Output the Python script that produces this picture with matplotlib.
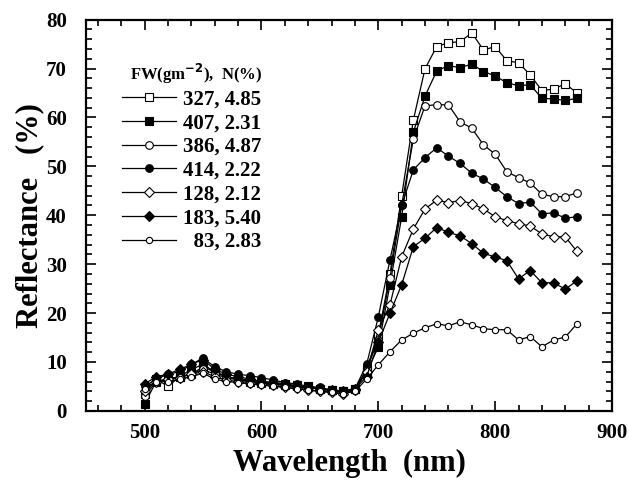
import matplotlib
matplotlib.use("Agg")
import matplotlib.pyplot as plt
from matplotlib.ticker import MultipleLocator

# wavelength grid (nm), 500..870 every 10
wavelength = list(range(500, 880, 10))

labels = ["327, 4.85", "407, 2.31", "386, 4.87", "414, 2.22",
          "128, 2.12", "183, 5.40", "  83, 2.83"]

# reflectance (%), 500..690 then 700..870
r327 = [3.5, 6.5, 5.0, 7.0, 7.5, 9.0, 8.0, 7.0, 6.5, 6.0, 5.8, 5.5, 5.2, 5.0, 4.8, 4.5, 4.2, 4.0, 4.5, 8.5,
        15.5, 28.0, 44.0, 59.5, 70.0, 74.5, 75.3, 75.5, 77.3, 73.8, 74.5, 71.6, 71.2, 68.7, 65.5, 65.8, 66.9, 65.0]
r407 = [1.5, 6.0, 6.5, 7.0, 8.5, 9.5, 8.0, 7.0, 6.5, 6.3, 6.0, 5.8, 5.5, 5.2, 5.0, 4.5, 4.2, 4.0, 4.5, 8.0,
        13.0, 25.8, 39.7, 57.0, 64.4, 69.5, 70.6, 70.2, 70.9, 69.4, 68.5, 67.1, 66.5, 66.7, 63.9, 63.8, 63.5, 63.9]
r386 = [3.0, 6.0, 6.5, 7.0, 7.5, 8.5, 7.5, 6.8, 6.3, 6.0, 5.8, 5.5, 5.2, 5.0, 4.8, 4.5, 4.2, 3.8, 4.3, 8.5,
        14.5, 27.2, 42.1, 55.6, 62.4, 62.6, 62.6, 59.1, 57.8, 54.4, 52.5, 48.9, 47.7, 46.6, 44.3, 43.8, 43.8, 44.6]
r414 = [5.0, 6.5, 7.5, 8.0, 9.5, 10.8, 9.0, 8.0, 7.5, 7.2, 6.8, 6.3, 5.8, 5.5, 5.0, 4.8, 4.3, 4.0, 4.5, 9.5,
        19.2, 30.9, 42.0, 49.3, 51.8, 53.8, 52.1, 50.6, 48.6, 47.4, 45.7, 43.8, 42.4, 42.7, 40.3, 40.5, 39.4, 39.7]
r128 = [4.0, 6.0, 6.5, 6.8, 7.5, 8.0, 7.0, 6.3, 6.0, 5.8, 5.5, 5.2, 4.8, 4.6, 4.3, 4.0, 3.8, 3.5, 4.2, 8.0,
        16.5, 21.7, 31.5, 37.2, 41.3, 43.1, 42.6, 43.0, 42.4, 41.3, 39.7, 38.9, 38.3, 37.8, 36.2, 35.6, 35.6, 32.6]
r183 = [5.5, 7.0, 7.5, 8.5, 9.5, 10.5, 8.5, 7.5, 7.0, 6.5, 6.0, 5.8, 5.5, 5.0, 4.8, 4.5, 4.2, 4.0, 4.5, 7.0,
        14.0, 20.0, 25.8, 33.6, 35.3, 37.5, 36.5, 35.8, 34.2, 32.2, 31.5, 30.7, 27.0, 28.7, 26.2, 26.2, 24.9, 26.6]
r83 = [4.5, 6.0, 6.0, 6.5, 7.0, 7.7, 6.5, 6.0, 5.8, 5.5, 5.3, 5.0, 4.8, 4.5, 4.3, 4.0, 3.8, 3.5, 4.0, 6.5,
       9.4, 12.1, 14.5, 15.9, 17.0, 17.8, 17.4, 18.2, 17.6, 16.8, 16.6, 16.6, 14.5, 15.2, 13.1, 14.5, 15.1, 17.8]

series = [r327, r407, r386, r414, r128, r183, r83]
# (marker, face, size)
styles = [("s", "white", 6), ("s", "black", 6), ("o", "white", 5.5), ("o", "black", 5.5),
          ("D", "white", 5), ("D", "black", 5), ("o", "white", 4.5)]

plt.rcParams["font.family"] = ["Liberation Serif", "DejaVu Serif"]
plt.rcParams["font.weight"] = "bold"

fig = plt.figure(figsize=(6.29, 4.8), dpi=100)
ax = fig.add_axes([0.137, 0.144, 0.836, 0.815])

for ys, lab, (m, fc, ms) in zip(series, labels, styles):
    ax.plot(wavelength, ys, color="black", lw=0.9, marker=m, markerfacecolor=fc,
            markeredgecolor="black", markeredgewidth=0.8, markersize=ms, label=lab)

ax.set_xlim(450, 900)
ax.set_ylim(0, 80)
ax.xaxis.set_major_locator(MultipleLocator(100))
ax.xaxis.set_minor_locator(MultipleLocator(20))
ax.yaxis.set_major_locator(MultipleLocator(10))
ax.yaxis.set_minor_locator(MultipleLocator(2))
ax.tick_params(which="both", direction="in", top=True, right=True, labelsize=15, width=1.2)
ax.tick_params(which="major", length=7)
ax.tick_params(which="minor", length=4)
ax.tick_params(axis="x", which="major", pad=9)
ax.tick_params(axis="y", which="major", pad=14)
for sp in ax.spines.values():
    sp.set_linewidth(1.6)

ax.set_xlabel("Wavelength  (nm)", fontsize=22, fontweight="bold", labelpad=4)
ax.set_ylabel("Reflectance   (%)", fontsize=22, fontweight="bold", labelpad=1)

leg = ax.legend(loc="upper left", bbox_to_anchor=(0.04, 0.93), frameon=False,
                title="FW(gm$^{\\mathbf{-2}}$),  N(%)", alignment="right",
                fontsize=15, title_fontsize=12, handlelength=2.6, handletextpad=0.35,
                labelspacing=0.18, numpoints=1, borderpad=0.2)
leg.get_title().set_fontweight("bold")

fig.savefig("out.png", dpi=100)
